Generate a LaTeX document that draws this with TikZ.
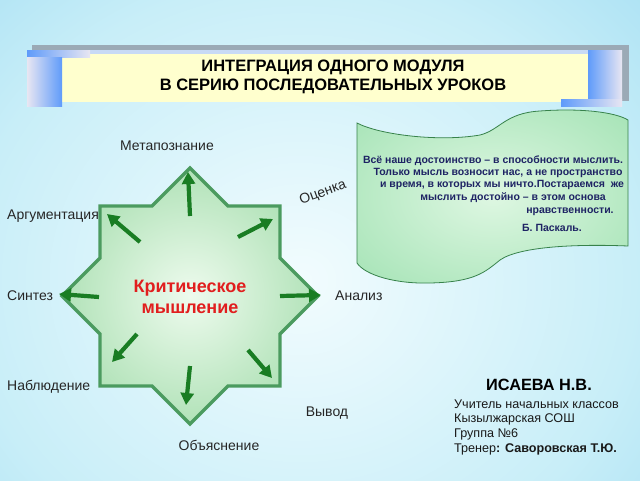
\documentclass[tikz,border=0pt]{standalone}
\usepackage{fontspec}
\setmainfont{Liberation Sans}
\usetikzlibrary{arrows.meta}
\definecolor{bgin}{RGB}{242,252,254}
\definecolor{bgmid}{RGB}{200,238,248}
\definecolor{bgout}{RGB}{120,203,236}
\definecolor{starin}{RGB}{238,251,238}
\definecolor{starout}{RGB}{150,215,160}
\definecolor{starline}{RGB}{75,155,95}
\definecolor{arrowgreen}{RGB}{25,125,35}
\definecolor{scrollin}{RGB}{222,247,226}
\definecolor{scrollout}{RGB}{150,222,170}
\definecolor{scrollline}{RGB}{55,130,75}
\definecolor{quotecol}{RGB}{30,35,100}
\definecolor{titleyellow}{RGB}{255,255,206}
\definecolor{framegray}{RGB}{155,170,182}
\definecolor{barblue}{RGB}{95,155,250}
\definecolor{barpale}{RGB}{232,230,242}
\definecolor{thinblue}{RGB}{200,218,245}
\definecolor{critred}{RGB}{225,30,30}
\pgfdeclareradialshading{bgshade}{\pgfpoint{0bp}{0bp}}{color(0bp)=(bgin); color(22bp)=(bgmid); color(50bp)=(bgout); color(75bp)=(bgout)}
\pgfdeclareradialshading{starshade}{\pgfpoint{0bp}{0bp}}{color(0bp)=(starin); color(36bp)=(starout); color(75bp)=(starout)}
\pgfdeclareradialshading{scrollshade}{\pgfpoint{0bp}{0bp}}{color(0bp)=(scrollin); color(45bp)=(scrollout); color(75bp)=(scrollout)}
\tikzset{
  lbl/.style={font=\fontsize{14}{16}\selectfont, text=black!85, inner sep=0pt},
  quote/.style={font=\bfseries\fontsize{10.5}{12}\selectfont, text=quotecol, inner sep=0pt},
  info/.style={font=\fontsize{12.6}{14}\selectfont, text=black!90, inner sep=0pt, anchor=west},
  arr/.style={draw=arrowgreen, line width=4.2pt, -{Triangle[length=12pt,width=13pt]}},
}
\begin{document}
\begin{tikzpicture}[x=1pt,y=-1pt]
\useasboundingbox (0,0) rectangle (640,480);
% background
\begin{scope}
\clip (0,0) rectangle (640,480);
\shade[shading=bgshade] (-80,-60) rectangle (680,620);
\end{scope}
% banner
\fill[framegray] (32,45) rectangle (629,101);
\fill[thinblue] (62,50) rectangle (588,54);
\fill[titleyellow] (62,54) rectangle (588,102);
\shade[left color=barblue, right color=barpale] (27,50) rectangle (90,57);
\shade[left color=barpale, right color=barblue] (27,57) rectangle (62,106);
\shade[left color=barblue, right color=barpale] (588,50) rectangle (622,100);
\shade[left color=barblue, right color=barpale] (561,99) rectangle (622,106);
\node[font=\bfseries\fontsize{16.5}{19}\selectfont, align=center, inner sep=0pt] (title) at (333,77)
  {ИНТЕГРАЦИЯ ОДНОГО МОДУЛЯ\\В СЕРИЮ ПОСЛЕДОВАТЕЛЬНЫХ УРОКОВ};
% scroll
\path[shading=scrollshade, draw=scrollline, line width=0.8pt]
  (357,123) .. controls (380,135) and (440,142) .. (480,135)
  .. controls (500,130) and (505,113) .. (540,111)
  .. controls (580,108) and (615,112) .. (628,120)
  -- (628,246)
  .. controls (580,244) and (520,246) .. (500,260)
  .. controls (485,272) and (475,282) .. (430,283)
  .. controls (395,284) and (365,275) .. (357,263) -- cycle;
\node[quote] (q1) at (493,161) {Всё наше достоинство – в способности мыслить.};
\node[quote] (q2) at (498,173) {Только мысль возносит нас, а не пространство};
\node[quote] (q3) at (502,185) {и время, в которых мы ничто.Постараемся\ \ же};
\node[quote] (q4) at (513,198) {мыслить достойно – в этом основа};
\node[quote] (q5) at (570,212) {нравственности.};
\node[quote] (q6) at (552,228) {Б. Паскаль.};
% star
\begin{scope}[shift={(190,296)}]
\path[shading=starshade, draw=starline, line width=3.4pt, line join=miter]
  (0,-128) -- (38,-90) -- (90,-90) -- (90,-38) -- (128,0) -- (90,38) -- (90,90) -- (38,90)
  -- (0,128) -- (-38,90) -- (-90,90) -- (-90,38) -- (-128,0) -- (-90,-38) -- (-90,-90) -- (-38,-90) -- cycle;
\end{scope}
\coordinate (nS) at (190,216); \coordinate (nE) at (188,172);
\coordinate (nwS) at (140,242); \coordinate (nwE) at (107,214);
\coordinate (neS) at (238,237); \coordinate (neE) at (273,219);
\coordinate (wS) at (99,297); \coordinate (wE) at (59,294);
\coordinate (eS) at (280,296); \coordinate (eE) at (321,295);
\coordinate (swS) at (137,334); \coordinate (swE) at (112,362);
\coordinate (sS) at (190,366); \coordinate (sE) at (186,405);
\coordinate (seS) at (248,350); \coordinate (seE) at (272,378);
\draw[arr] (nS) -- (nE);
\draw[arr] (nwS) -- (nwE);
\draw[arr] (neS) -- (neE);
\draw[arr] (wS) -- (wE);
\draw[arr] (eS) -- (eE);
\draw[arr] (swS) -- (swE);
\draw[arr] (sS) -- (sE);
\draw[arr] (seS) -- (seE);
\node[font=\bfseries\fontsize{18}{21}\selectfont, text=critred, align=center, inner sep=0pt] (crit) at (190,297)
  {Критическое\\мышление};
% labels
\node[lbl] (meta) at (167,146) {Метапознание};
\node[lbl, anchor=west] (arg) at (7,216) {Аргументация};
\node[lbl, anchor=west] (syn) at (7,296) {Синтез};
\node[lbl, anchor=west] (obs) at (7,387) {Наблюдение};
\node[lbl] (expl) at (219,445) {Объяснение};
\node[lbl] (concl) at (327,413) {Вывод};
\node[lbl, anchor=west] (anal) at (335,296) {Анализ};
\node[lbl, rotate=20] (eval) at (323,193) {Оценка};
% author
\node[font=\bfseries\fontsize{16.3}{18}\selectfont, inner sep=0pt] (name) at (539,385) {ИСАЕВА Н.В.};
\node[info] (i1) at (454,404) {Учитель начальных классов};
\node[info] (i2) at (454,419) {Кызылжарская СОШ};
\node[info] (i3) at (454,434) {Группа №6};
\node[info] (i4) at (454,449) {Тренер\textbf{: Саворовская Т.Ю.}};
\end{tikzpicture}
\end{document}
